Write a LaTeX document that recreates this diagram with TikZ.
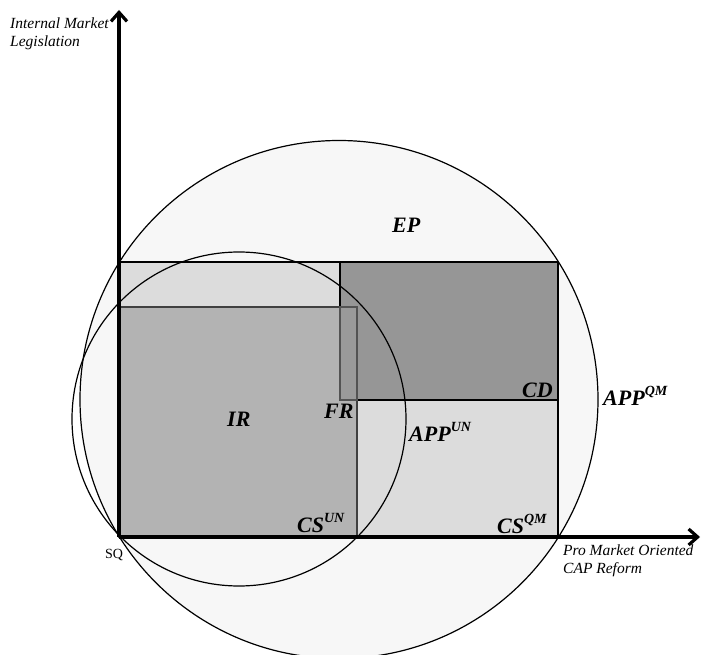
\documentclass[tikz,border=0pt]{standalone}
\usepackage{fontspec}
\setmainfont{Liberation Serif}
\usepackage{tikz}
\usetikzlibrary{shapes,arrows.meta,positioning}
\definecolor{epgray}{HTML}{F7F7F7}
\definecolor{appgray}{HTML}{DCDCDC}
\definecolor{cdgray}{HTML}{969696}
\definecolor{irgray}{HTML}{B3B3B3}
\definecolor{frgray}{HTML}{9A9A9A}
\definecolor{irline}{HTML}{404040}
\tikzstyle{region} = [draw, line width=1.3pt]
\tikzstyle{ring} = [draw, line width=1.2pt]
\tikzstyle{axis} = [line width=3.2pt, -{Straight Barb[length=9pt,width=16pt]}]
\tikzstyle{setname} = [font=\fontsize{22}{24}\selectfont\bfseries\itshape, inner sep=0pt, anchor=base west]
\tikzstyle{axisname} = [font=\fontsize{15.5}{18}\selectfont\itshape, inner sep=0pt, anchor=base west, align=left]
\newcommand{\upidx}[1]{\raisebox{0.45em}{\fontsize{14}{14}\selectfont #1}}

\begin{document}
\begin{tikzpicture}[x=1pt, y=-1pt]
			\useasboundingbox (0,0) rectangle (702,655);
			\clip (0,0) rectangle (702,655);
			\coordinate (SQ) at (119,537);
			\coordinate (ytop) at (119,10);
			\coordinate (xend) at (700,537);
			
			% sets
			\path [ring, fill=epgray] (339,399.5) circle [radius=259pt];
			\path [region, fill=appgray] (SQ) rectangle (558,262);
			\path [region, fill=cdgray] (340,262) rectangle (558,400);
			\path [region, draw=irline, fill=irgray] (SQ) rectangle (357,307);
			\path [region, draw=irline!90, fill=frgray] (340,307) rectangle (357,400);
			\path [ring] (239,419) circle [radius=167pt];
			
			% axes
			\draw [axis] (SQ) -- (ytop);
			\draw [axis] (SQ) -- (xend);
			
			\node [setname] (ep) at (392,233) {EP};
			\node [setname] (ir) at (227,426) {IR};
			\node [setname] (fr) at (324,418) {FR};
			\node [setname] (cd) at (522,397) {CD};
			\node [setname] (appun) at (409,441) {APP\upidx{UN}};
			\node [setname] (appqm) at (603,405) {APP\upidx{QM}};
			\node [setname] (csun) at (297,532) {CS\upidx{UN}};
			\node [setname] (csqm) at (497,533) {CS\upidx{QM}};
			\node [font=\fontsize{14}{15}\selectfont, inner sep=0pt, anchor=base west] (sq) at (105,558) {SQ};
			\node [axisname] (ylabel) at (10,47) {Internal Market\\Legislation};
			\node [axisname] (xlabel) at (563,573) {Pro Market Oriented\\CAP Reform};
		\end{tikzpicture}
\end{document}
